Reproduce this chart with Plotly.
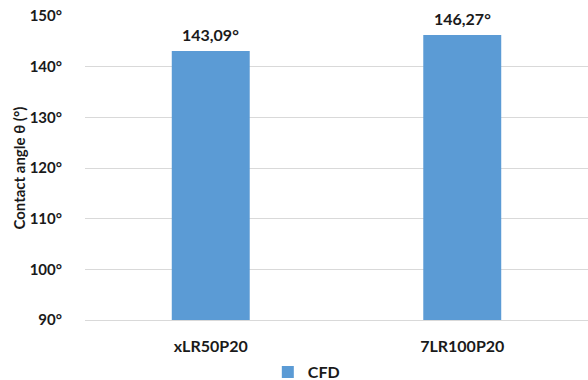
import plotly.graph_objects as go

# Contact angle per configuration (CFD)
categories = ["xLR50P20", "7LR100P20"]
angles = [143.09, 146.27]
series_name = "CFD"
y_title = "Contact angle θ (°)"

FONT = "Lato"
TEXT_COLOR = "#1a1a1a"

fig = go.Figure()
fig.add_trace(go.Bar(
    x=categories,
    y=angles,
    name=series_name,
    marker=dict(color="#5B9BD5", line=dict(width=0)),
    width=0.31,
    showlegend=True,
))

# value labels sitting a little above each bar
for cat, val in zip(categories, angles):
    fig.add_annotation(
        x=cat, y=val,
        text=f"{val:.2f}°".replace(".", ","),
        showarrow=False,
        yanchor="bottom", yshift=5,
        font=dict(family=FONT, size=16, color=TEXT_COLOR, weight="bold"),
    )

# y-axis title, placed close to the tick labels
fig.add_annotation(
    xref="paper", yref="paper",
    x=-0.132, y=0.5,
    text=y_title, textangle=-90,
    showarrow=False,
    xanchor="center", yanchor="middle",
    font=dict(family=FONT, size=15, color=TEXT_COLOR, weight="bold"),
)

fig.update_layout(
    width=588,
    height=380,
    margin=dict(l=85, r=0, t=16, b=60, autoexpand=False),
    paper_bgcolor="white",
    plot_bgcolor="white",
    font=dict(family=FONT, color=TEXT_COLOR, size=14),
    showlegend=True,
    legend=dict(
        orientation="h",
        x=0.44, xanchor="center",
        y=-0.171, yanchor="middle",
        font=dict(family=FONT, size=16, color=TEXT_COLOR, weight="bold"),
        itemwidth=30,
    ),
)

fig.update_xaxes(
    showline=True, linecolor="#D9D9D9", linewidth=1,
    ticks="", ticklabelstandoff=12, automargin=False,
    tickfont=dict(family=FONT, size=16, color=TEXT_COLOR, weight="bold"),
)
fig.update_yaxes(
    range=[90, 150],
    dtick=10,
    ticksuffix="°",
    showgrid=True, gridcolor="#D9D9D9", gridwidth=1,
    zeroline=False, showline=False,
    ticklabelstandoff=22, automargin=False,
    tickfont=dict(family=FONT, size=15, color=TEXT_COLOR, weight="bold"),
)

fig.write_html("out.html")
